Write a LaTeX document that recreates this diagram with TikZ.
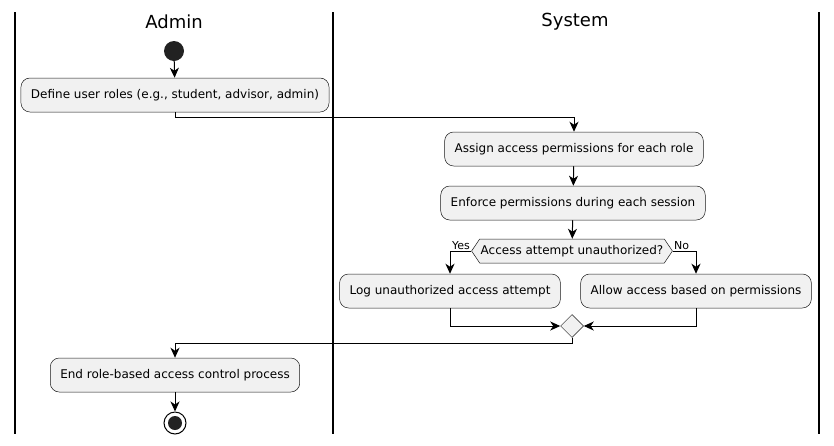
\documentclass[tikz,border=0pt]{standalone}
\usepackage{fontspec}
\setmainfont{DejaVu Sans}
\usetikzlibrary{arrows.meta,shapes.geometric,shapes.symbols}
\definecolor{actfill}{HTML}{F1F1F1}
\definecolor{actline}{HTML}{181818}
\definecolor{dot}{HTML}{222222}
\begin{document}
\begin{tikzpicture}[x=1pt,y=-1pt,
  act/.style={draw=actline,line width=0.5pt,fill=actfill,rounded corners=9pt,
    minimum height=34pt,inner xsep=10pt,font=\fontsize{12}{14}\selectfont},
  flow/.style={line width=1pt,-{Stealth[length=10pt,width=9pt,inset=3pt]}},
  lane/.style={line width=1.5pt},
  tag/.style={font=\fontsize{11}{12}\selectfont,inner sep=1pt}]
\useasboundingbox (0,0) rectangle (834,445);
\draw[lane] (15,12) -- (15,434);
\draw[lane] (333,12) -- (333,434);
\draw[lane] (819,12) -- (819,434);
\node[font=\fontsize{18}{20}\selectfont] (T_0) at (174,22) {Admin};
\node[font=\fontsize{18}{20}\selectfont] (T_1) at (575,22) {System};
\node[circle,fill=dot,minimum size=20pt,inner sep=0pt] (P_0_0) at (174,51) {};
\node[act] (P_0_1) at (175,95) {Define user roles (e.g., student, advisor, admin)};
\draw[flow] (P_0_0) -- (P_0_1);
\node[act] (P_1_2) at (574,149) {Assign access permissions for each role};
\draw[flow] (P_0_1.south) -- ++(0,5) -| (P_1_2.north);
\node[act] (P_1_3) at (573,203) {Enforce permissions during each session};
\draw[flow] (P_1_2) -- (P_1_3);
\node[signal,signal to=west and east,signal pointer angle=112,draw=actline,line width=0.5pt,fill=actfill,
  minimum height=24pt,inner xsep=1pt,font=\fontsize{12}{14}\selectfont] (P_1_4) at (572,251) {Access attempt unauthorized?};
\draw[flow] (P_1_3) -- (P_1_4);
\node[act] (P_1_5) at (450,291) {Log unauthorized access attempt};
\draw[flow] (P_1_4.west) -| (P_1_5.north) node[pos=0,tag,above left] {Yes};
\node[act] (P_1_6) at (696,291) {Allow access based on permissions};
\draw[flow] (P_1_4.east) -| (P_1_6.north) node[pos=0,tag,above right] {No};
\node[diamond,draw=actline,line width=0.5pt,fill=actfill,minimum size=23pt,inner sep=0pt] (P_1_7) at (572,326) {};
\draw[flow] (P_1_5.south) |- (P_1_7.west);
\draw[flow] (P_1_6.south) |- (P_1_7.east);
\node[act] (P_0_8) at (175,375) {End role-based access control process};
\draw[flow] (P_1_7.south) -- ++(0,6) -| (P_0_8.north);
\node[circle,draw=black,line width=1pt,fill=white,minimum size=22pt,inner sep=0pt] (P_0_9) at (175,423) {};
\node[circle,fill=dot,minimum size=14pt,inner sep=0pt] at (P_0_9) {};
\draw[flow] (P_0_8) -- (P_0_9);
\end{tikzpicture}
\end{document}
